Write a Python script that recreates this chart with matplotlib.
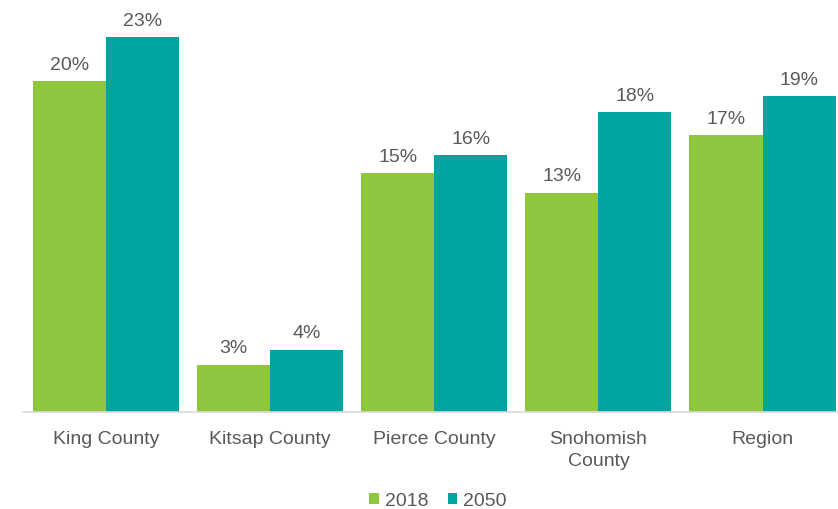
import numpy as np
import matplotlib.pyplot as plt

plt.rcParams['font.family'] = ['Liberation Sans', 'DejaVu Sans']

# share of population, by county
categories = ['King County', 'Kitsap County', 'Pierce County', 'Snohomish\nCounty', 'Region']
years = ['2018', '2050']
vals_2018 = [20.2, 2.9, 14.6, 13.4, 16.9]
vals_2050 = [22.9, 3.8, 15.7, 18.3, 19.3]

green = '#8DC63F'
teal = '#00A59F'
grey = '#595959'
fs = 14

fig = plt.figure(figsize=(8.38, 5.10), dpi=100)
ax = fig.add_axes([23/838, 97/510, 815/838, 393/510])

x = np.arange(len(categories))
w = 0.445
b1 = ax.bar(x - w/2, vals_2018, w, color=green, label=years[0])
b2 = ax.bar(x + w/2, vals_2050, w, color=teal, label=years[1])

for bars in (b1, b2):
    for r in bars:
        ax.annotate(f"{r.get_height():.0f}%", (r.get_x() + r.get_width()/2, r.get_height()),
                    xytext=(0, 6), textcoords='offset points', ha='center', va='bottom',
                    fontsize=fs, color=grey)

ax.set_xlim(-0.506, 4.46)
ax.set_ylim(0, 24)
ax.set_xticks(x)
ax.set_xticklabels(categories, fontsize=fs, color=grey, linespacing=1.35)
ax.tick_params(axis='x', length=0, pad=13)
ax.set_yticks([])
for s in ['top', 'right', 'left']:
    ax.spines[s].set_visible(False)
ax.spines['bottom'].set_color('#D9D9D9')
ax.spines['bottom'].set_linewidth(1.2)

leg = ax.legend(loc='center', bbox_to_anchor=(0.509, -0.226), ncol=2, frameon=False,
                fontsize=fs, handlelength=0.5, handleheight=0.5, handletextpad=0.3,
                columnspacing=1.0)
for t in leg.get_texts():
    t.set_color(grey)

fig.savefig('out.png', dpi=100)
